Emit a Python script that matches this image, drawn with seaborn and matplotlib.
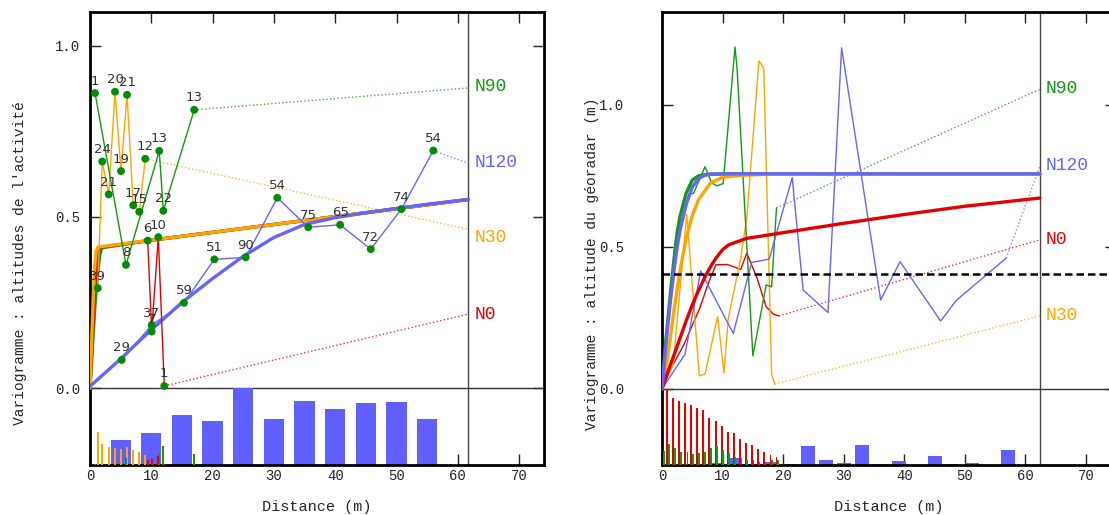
import seaborn as sns
import matplotlib.pyplot as plt

sns.set_style("ticks")
plt.rcParams['font.family'] = ['Liberation Mono', 'DejaVu Sans Mono']

# colours of the four directions
c_n0 = '#e50000'
c_n30 = '#ffa500'
c_n90 = '#119911'
c_n120 = '#6464ff'
c_pts = '#008c00'

# ---------------- left : altitudes de l'activite ----------------
L_dmax = 61.7
# experimental variogram : lag distance, gamma, number of pairs
L_n0_x = [9.41, 10.07, 11.14, 12.12]
L_n0_y = [0.431, 0.165, 0.441, 0.006]
L_n0_n = [6, 7, 10, 1]
L_n30_x = [1.26, 2.0, 3.05, 4.08, 5.06, 6.04, 7.06, 8.04, 9.02]
L_n30_y = [0.292, 0.662, 0.566, 0.866, 0.634, 0.857, 0.534, 0.515, 0.670]
L_n30_n = [39, 24, 21, 20, 19, 21, 17, 15, 12]
L_n90_x = [0.82, 5.87, 11.3, 11.96, 17.0]
L_n90_y = [0.862, 0.360, 0.693, 0.518, 0.813]
L_n90_n = [1, 8, 13, 22, 13]
L_n120_x = [5.17, 10.07, 15.33, 20.28, 25.4, 30.55, 35.6, 40.8, 45.8, 50.8, 56.0]
L_n120_y = [0.082, 0.184, 0.249, 0.376, 0.382, 0.556, 0.470, 0.477, 0.406, 0.523, 0.694]
L_n120_n = [29, 37, 59, 51, 90, 54, 75, 65, 72, 74, 54]
L_n120_lag = [5, 10, 15, 20, 25, 30, 35, 40, 45, 50, 55]

# fitted models
L_fit_n0_x = [0, 0.3, 0.6, 0.9, 1.2, 1.5, 10, 20, 30, 40, 50, 61.7]
L_fit_n0_y = [0, 0.12, 0.24, 0.34, 0.40, 0.411, 0.432, 0.455, 0.478, 0.501, 0.524, 0.551]
L_fit_n30_x = [0, 0.25, 0.5, 0.75, 1.0, 1.3, 10, 20, 30, 40, 50, 61.7]
L_fit_n30_y = [0, 0.13, 0.25, 0.35, 0.40, 0.412, 0.432, 0.455, 0.478, 0.501, 0.524, 0.551]
L_fit_n90_x = [0, 0.4, 0.8, 1.2, 1.6, 1.9, 10, 20, 30, 40, 50, 61.7]
L_fit_n90_y = [0, 0.12, 0.24, 0.33, 0.39, 0.41, 0.432, 0.455, 0.478, 0.501, 0.524, 0.551]
L_fit_n120_x = [0, 2.5, 5, 7.5, 10, 15, 20, 25, 30, 35, 40, 45, 50, 55, 61.7]
L_fit_n120_y = [0.005, 0.045, 0.085, 0.128, 0.17, 0.25, 0.32, 0.385, 0.44, 0.478, 0.498, 0.512, 0.525, 0.537, 0.551]

# direction labels : (line end, text position)
L_lab = {'N90': (0.877, 0.88), 'N120': (0.657, 0.658), 'N30': (0.464, 0.44), 'N0': (0.216, 0.216)}

# ---------------- right : altitude du georadar ----------------
R_dmax = 62.4
R_sill = 0.405
R_n0_x = [0, 1.8, 3.6, 6.27, 7.6, 8.9, 10.8, 13.0, 14.0, 15.7, 17.2, 18.4, 19.3]
R_n0_y = [0, 0.085, 0.155, 0.286, 0.369, 0.437, 0.438, 0.421, 0.478, 0.39, 0.289, 0.263, 0.257]
R_n30_x = [0, 1.86, 4.08, 6.16, 7.1, 9.19, 10.23, 10.95, 12.9, 14.0, 16.0, 16.8, 18.1, 18.6]
R_n30_y = [0, 0.087, 0.615, 0.046, 0.052, 0.255, 0.057, 0.25, 0.45, 0.60, 1.155, 1.129, 0.052, 0.017]
R_n90_x = [0, 2.15, 4.5, 5.2, 7.1, 8.2, 9.1, 10.1, 12.05, 12.4, 15.0, 17.2, 18.1, 18.9]
R_n90_y = [0, 0.51, 0.688, 0.688, 0.782, 0.725, 0.715, 0.723, 1.204, 1.126, 0.116, 0.366, 0.359, 0.637]
R_n120_x = [0, 3.8, 6.39, 11.77, 14.8, 17.7, 21.5, 23.3, 27.4, 29.65, 36.1, 39.3, 46.0, 48.6, 56.8]
R_n120_y = [0, 0.122, 0.415, 0.195, 0.445, 0.457, 0.744, 0.348, 0.269, 1.201, 0.313, 0.448, 0.239, 0.312, 0.460]

R_fit_n0_x = [0, 1, 2, 3, 4, 5, 6, 7, 8, 9, 10, 11, 12, 14, 20, 30, 40, 50, 62.4]
R_fit_n0_y = [0, 0.062, 0.12, 0.18, 0.24, 0.295, 0.345, 0.39, 0.43, 0.463, 0.49, 0.507, 0.515, 0.53, 0.55,
              0.583, 0.614, 0.643, 0.672]
R_fit_n30_x = [0, 1, 2, 3, 4, 5, 6, 8, 10, 13, 18, 62.4]
R_fit_n30_y = [0, 0.12, 0.28, 0.42, 0.53, 0.61, 0.665, 0.725, 0.745, 0.752, 0.756, 0.757]
R_fit_n90_x = [0, 0.5, 1, 1.5, 2, 2.5, 3, 4, 5, 6, 7, 8, 10, 62.4]
R_fit_n90_y = [0, 0.14, 0.25, 0.36, 0.46, 0.55, 0.61, 0.69, 0.735, 0.75, 0.754, 0.756, 0.757, 0.757]
R_fit_n120_y = [0, 0.12, 0.23, 0.33, 0.42, 0.50, 0.56, 0.65, 0.71, 0.74, 0.752, 0.756, 0.757, 0.757]

R_lab = {'N90': (1.055, 1.057), 'N120': (0.785, 0.785), 'N0': (0.525, 0.527), 'N30': (0.257, 0.257)}

# pair histograms of the right panel (relative heights)
R_h_n0_x = [0.77, 1.8, 2.8, 3.8, 4.8, 5.8, 6.8, 7.8, 8.9, 9.9, 10.9, 11.9, 12.9, 13.9, 14.9, 15.9, 16.9, 17.9, 18.9]
R_h_n0 = [75, 66, 63, 61, 59, 56, 54, 46, 43, 38, 33, 32, 26, 22, 20, 16, 13, 10, 8]
R_h_n90_x = [0.3, 1.2, 2.2, 3.2, 4.2, 5.1, 6.1, 7.1, 8.1, 9.1, 10.1, 11.1, 12.1, 14.1, 15.1, 16.1, 17.1, 18.1, 19.1]
R_h_n90 = [14, 21, 17, 13, 13, 11, 12, 13, 17, 19, 15, 12, 8, 5, 5, 3, 3, 5, 5]
R_h_n120_x = [8.9, 12.05, 15.05, 18.15, 21.2, 24.1, 27.1, 30.05, 33.0, 36.0, 39.1, 45.1, 48.0, 51.25, 57.1]
R_h_n120 = [2, 7, 1, 3, 1, 19, 5, 2, 20, 0.5, 4, 9, 0.5, 2, 15]


def style_axes(ax, xmax, ybot, ytop, dmax, ypad):
    ax.set_xlim(0, xmax)
    ax.set_ylim(ybot, ytop)
    ax.set_xticks(range(0, 80, 10))
    ax.set_yticks([0, 0.5, 1.0])
    ax.set_yticklabels(['0.0', '0.5', '1.0'])
    ax.tick_params(direction='in', top=True, right=True, length=8, width=1,
                   labelsize=10, colors='#222222')
    ax.tick_params(axis='y', pad=ypad)
    ax.tick_params(axis='x', pad=3)
    for s in ax.spines.values():
        s.set_linewidth(2)
        s.set_color('black')
    ax.axhline(0, color='#333333', lw=1, zorder=1)
    ax.axvline(dmax, color='#444444', lw=1, zorder=1)
    ax.set_xlabel('Distance (m)', fontsize=11, labelpad=12)


def dir_labels(ax, lab, ends, dmax, colors):
    for name, (yend, ytxt) in lab.items():
        xl, yl = ends[name]
        ax.plot([xl, dmax], [yl, yend], ls=':', lw=1, color=colors[name], alpha=0.8)
        ax.text(dmax + 1.0, ytxt, name, color=colors[name], fontsize=13, va='center')


fig = plt.figure(figsize=(11.09, 5.15), dpi=100)
ax1 = fig.add_axes([90 / 1109, 50 / 515, 454 / 1109, 453 / 515])
ax2 = fig.add_axes([662 / 1109, 50 / 515, 454 / 1109, 453 / 515])
cols = {'N0': c_n0, 'N30': c_n30, 'N90': c_n90, 'N120': c_n120}

# ---- left panel ----
L_ybot = -0.225
sc = -L_ybot / max(L_n120_n)
ax1.bar(L_n120_lag, [n * sc for n in L_n120_n], bottom=L_ybot, width=3.3,
        color='#6060ff', linewidth=0, zorder=2)
for xs, ns, c in [(L_n30_x, L_n30_n, c_n30), (L_n90_x, L_n90_n, c_n90), (L_n0_x, L_n0_n, c_n0)]:
    ax1.bar(xs, [n * sc for n in ns], bottom=L_ybot, width=0.3, color=c, linewidth=0, zorder=3)

for fx, fy, c in [(L_fit_n90_x, L_fit_n90_y, c_n90), (L_fit_n0_x, L_fit_n0_y, c_n0),
                  (L_fit_n30_x, L_fit_n30_y, c_n30), (L_fit_n120_x, L_fit_n120_y, c_n120)]:
    sns.lineplot(x=fx, y=fy, color=c, lw=2.4, sort=False, estimator=None, ax=ax1, zorder=4)

exp_left = {'N0': (L_n0_x, L_n0_y, L_n0_n), 'N30': (L_n30_x, L_n30_y, L_n30_n),
            'N90': (L_n90_x, L_n90_y, L_n90_n), 'N120': (L_n120_x, L_n120_y, L_n120_n)}
for name, (xs, ys, ns) in exp_left.items():
    sns.lineplot(x=xs, y=ys, color=cols[name], lw=1, sort=False, estimator=None, ax=ax1, zorder=5)
for name, (xs, ys, ns) in exp_left.items():
    sns.scatterplot(x=xs, y=ys, color=c_pts, s=32, edgecolor='none', ax=ax1, zorder=6)
    for x, y, n in zip(xs, ys, ns):
        ax1.annotate(str(n), (x, y), xytext=(0, 4), textcoords='offset points',
                     ha='center', va='bottom', fontsize=9.5, color='#333333',
                     family='DejaVu Sans', zorder=7)
dir_labels(ax1, L_lab, {k: (v[0][-1], v[1][-1]) for k, v in exp_left.items()}, L_dmax, cols)
style_axes(ax1, 454 / 6.13, L_ybot, 1.099, L_dmax, 7)
ax1.set_ylabel("Variogramme : altitudes de l'activité", fontsize=10.5)
ax1.yaxis.set_label_coords(-0.138, 0.445)

# ---- right panel ----
R_ybot = -0.268
sc = -R_ybot / max(R_h_n0)
ax2.bar(R_h_n120_x, [n * sc for n in R_h_n120], bottom=R_ybot, width=2.3,
        color='#6060ff', linewidth=0, zorder=2)
ax2.bar(R_h_n0_x, [n * sc for n in R_h_n0], bottom=R_ybot, width=0.3, color=c_n0, linewidth=0, zorder=3)
ax2.bar(R_h_n90_x, [n * sc for n in R_h_n90], bottom=R_ybot, width=0.3, color=c_n90, linewidth=0, zorder=3)

exp_right = {'N0': (R_n0_x, R_n0_y), 'N30': (R_n30_x, R_n30_y),
             'N90': (R_n90_x, R_n90_y), 'N120': (R_n120_x, R_n120_y)}
for name, (xs, ys) in exp_right.items():
    sns.lineplot(x=xs, y=ys, color=cols[name], lw=1, sort=False, estimator=None, ax=ax2, zorder=4)

for fx, fy, c in [(R_fit_n90_x, R_fit_n90_y, c_n90), (R_fit_n30_x, R_fit_n30_y, c_n30),
                  (R_fit_n0_x, R_fit_n0_y, c_n0), (R_fit_n90_x, R_fit_n120_y, c_n120)]:
    sns.lineplot(x=fx, y=fy, color=c, lw=2.4, sort=False, estimator=None, ax=ax2, zorder=5)
ax2.axhline(R_sill, color='black', lw=1.8, ls=(0, (3, 1.6)), zorder=6)
dir_labels(ax2, R_lab, {k: (v[0][-1], v[1][-1]) for k, v in exp_right.items()}, R_dmax, cols)
style_axes(ax2, 454 / 6.057, R_ybot, 1.327, R_dmax, 27)
ax2.set_ylabel("Variogramme : altitude du géoradar (m)", fontsize=10.5)
ax2.yaxis.set_label_coords(-0.138, 0.445)

fig.savefig('out.png', dpi=100)
